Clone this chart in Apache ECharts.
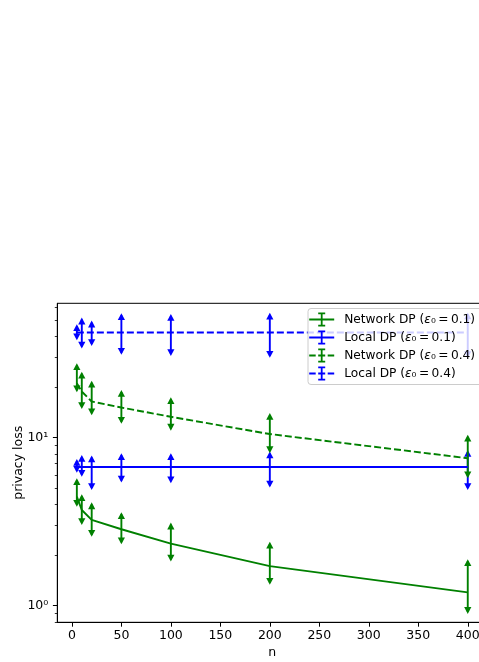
<!DOCTYPE html>
<html>
<head>
<meta charset="utf-8">
<script src="https://cdn.jsdelivr.net/npm/echarts@6/dist/echarts.min.js"></script>
<style>
  html, body { margin: 0; padding: 0; background: #fff; }
  #chart { width: 479px; height: 662px; }
</style>
</head>
<body>
<div id="chart"></div>
<script>
// x values (number of users)
const nValues = [5, 10, 20, 50, 100, 200, 400];

// Network DP, eps0 = 0.1
const networkLoss01 = [4.45, 3.71, 3.24, 2.85, 2.34, 1.72, 1.20];
const networkLow01 = [3.88, 3.02, 2.57, 2.32, 1.83, 1.33, 0.893];
const networkHigh01 = [5.73, 4.60, 4.12, 3.60, 3.12, 2.40, 1.89];

// Local DP, eps0 = 0.1
const localLoss01 = [6.69, 6.69, 6.69, 6.69, 6.69, 6.69, 6.69];
const localLow01 = [6.17, 5.84, 4.88, 5.40, 5.35, 5.04, 4.88];
const localHigh01 = [7.47, 7.89, 7.83, 8.08, 8.08, 8.26, 8.45];

// Network DP, eps0 = 0.4
const networkLoss04 = [21.1, 18.8, 16.4, 15.1, 13.3, 10.5, 7.54];
const networkLow04 = [18.6, 14.8, 13.6, 12.1, 11.0, 8.08, 5.73];
const networkHigh04 = [27.7, 24.7, 21.8, 19.2, 17.4, 14.0, 10.4];

// Local DP, eps0 = 0.4
const localLoss04 = [42.2, 42.2, 42.2, 42.2, 42.2, 42.2, 42.2];
const localLow04 = [38.0, 33.9, 35.1, 31.1, 30.6, 29.9, 29.8];
const localHigh04 = [47.3, 51.8, 49.7, 55.0, 54.5, 55.3, 55.5];

const xTicks = [0, 50, 100, 150, 200, 250, 300, 350, 400];
const yMajorTicks = [1, 10];
const yMinorTicks = [0.8, 0.9, 2, 3, 4, 5, 6, 7, 8, 9, 20, 30, 40, 50, 60];

const GREEN = '#008000';
const BLUE = '#0000ff';
const FONT = 'DejaVu Sans';
const FS = 12.5;
const LEGEND_FS = 12.2;

// legend icons: line with an errorbar "I" in the middle (25 x 14)
const ICON_SOLID = 'path://M0 6.1L25 6.1L25 7.9L0 7.9Z M11.6 0L13.4 0L13.4 14L11.6 14Z M9 0L16 0L16 1.8L9 1.8Z M9 12.2L16 12.2L16 14L9 14Z';
const ICON_DASHED = 'path://M0 6.1L6.5 6.1L6.5 7.9L0 7.9Z M9 6.1L16 6.1L16 7.9L9 7.9Z M18.5 6.1L25 6.1L25 7.9L18.5 7.9Z M11.6 0L13.4 0L13.4 14L11.6 14Z M9 0L16 0L16 1.8L9 1.8Z M9 12.2L16 12.2L16 14L9 14Z';

const groups = [
  {name: 'Network DP (0.1)', eps: '0.1', kind: 'Network DP', color: GREEN, dashed: false, loss: networkLoss01, low: networkLow01, high: networkHigh01},
  {name: 'Local DP (0.1)', eps: '0.1', kind: 'Local DP', color: BLUE, dashed: false, loss: localLoss01, low: localLow01, high: localHigh01},
  {name: 'Network DP (0.4)', eps: '0.4', kind: 'Network DP', color: GREEN, dashed: true, loss: networkLoss04, low: networkLow04, high: networkHigh04},
  {name: 'Local DP (0.4)', eps: '0.4', kind: 'Local DP', color: BLUE, dashed: true, loss: localLoss04, low: localLow04, high: localHigh04}
];

function renderErrorBar(params, api) {
  const x = api.value(0);
  const top = api.coord([x, api.value(2)]);
  const bot = api.coord([x, api.value(1)]);
  const color = api.visual('color');
  const w = 3.6, h = 6.8;
  return {
    type: 'group',
    children: [
      {type: 'line', shape: {x1: top[0], y1: top[1] + 2, x2: bot[0], y2: bot[1] - 2},
        style: {stroke: color, lineWidth: 1.9}},
      {type: 'polygon', shape: {points: [[top[0], top[1]], [top[0] - w, top[1] + h], [top[0] + w, top[1] + h]]},
        style: {fill: color}},
      {type: 'polygon', shape: {points: [[bot[0], bot[1]], [bot[0] - w, bot[1] - h], [bot[0] + w, bot[1] - h]]},
        style: {fill: color}}
    ]
  };
}

const series = [];
groups.forEach(g => {
  series.push({
    name: g.name + ' line',
    type: 'line',
    data: nValues.map((n, i) => [n, g.loss[i]]),
    symbol: 'none',
    lineStyle: {color: g.color, width: 1.9, type: g.dashed ? [7, 3] : 'solid'},
    itemStyle: {color: g.color},
    silent: true,
    animation: false
  });
  series.push({
    name: g.name,
    type: 'custom',
    renderItem: renderErrorBar,
    data: nValues.map((n, i) => [n, g.low[i], g.high[i]]),
    itemStyle: {color: g.color},
    clip: false,
    silent: true,
    animation: false
  });
});

const chart = echarts.init(document.getElementById('chart'), null, {renderer: 'canvas'});

const option = {
  animation: false,
  backgroundColor: '#fff',
  textStyle: {fontFamily: FONT},
  grid: {
    left: 57.3, top: 303.3, width: 430, height: 319,
    outerBoundsMode: 'none', containLabel: false,
    show: true, borderColor: '#000', borderWidth: 1, backgroundColor: 'transparent'
  },
  xAxis: {
    type: 'value',
    min: -14.75, max: 419.75,
    name: 'n', nameLocation: 'middle', nameGap: 24, nameMoveOverlap: false,
    nameTextStyle: {color: '#000', fontSize: FS, fontFamily: FONT},
    axisLine: {show: true, onZero: false, lineStyle: {color: '#000', width: 1}},
    axisTick: {show: true, customValues: xTicks, length: 4.4, lineStyle: {color: '#000', width: 1}},
    axisLabel: {customValues: xTicks, color: '#000', fontSize: FS, fontFamily: FONT, margin: 7},
    splitLine: {show: false}
  },
  yAxis: [{
    type: 'log', logBase: 10,
    min: 0.796, max: 63,
    name: 'privacy loss', nameLocation: 'middle', nameGap: 32, nameMoveOverlap: false,
    nameTextStyle: {color: '#000', fontSize: FS, fontFamily: FONT},
    axisLine: {show: true, onZero: false, lineStyle: {color: '#000', width: 1}},
    axisTick: {show: true, customValues: yMajorTicks, length: 4.4, lineStyle: {color: '#000', width: 1}},
    axisLabel: {
      customValues: yMajorTicks, color: '#000', fontSize: FS, fontFamily: FONT, margin: 9,
      formatter: v => (v === 1 ? '10⁰' : '10¹')
    },
    splitLine: {show: false}
  }, {
    type: 'log', logBase: 10,
    min: 0.796, max: 63,
    position: 'left',
    axisLine: {show: false, onZero: false},
    axisTick: {show: true, customValues: yMinorTicks, length: 2.5, lineStyle: {color: '#000', width: 0.8}},
    axisLabel: {show: false},
    splitLine: {show: false}
  }],
  legend: {
    left: 308, top: 308.5,
    orient: 'vertical',
    itemWidth: 30, itemHeight: 14, itemGap: 4,
    padding: [4, 10, 4, 1.2],
    backgroundColor: 'rgba(255,255,255,0.8)',
    borderColor: '#cccccc', borderWidth: 1, borderRadius: 3,
    selectedMode: false,
    data: groups.map(g => ({name: g.name, icon: g.dashed ? ICON_DASHED : ICON_SOLID})),
    formatter: name => {
      const g = groups.find(gr => gr.name === name);
      return g.kind + ' ({e|ε}₀\u2009=\u2009' + g.eps + ')';
    },
    textStyle: {
      color: '#000', fontSize: LEGEND_FS, fontFamily: FONT, padding: [0, 0, 0, 2.5],
      rich: {e: {fontStyle: 'italic', fontSize: LEGEND_FS, fontFamily: FONT, color: '#000'}}
    }
  },
  series: series
};

chart.setOption(option);
</script>
</body>
</html>
